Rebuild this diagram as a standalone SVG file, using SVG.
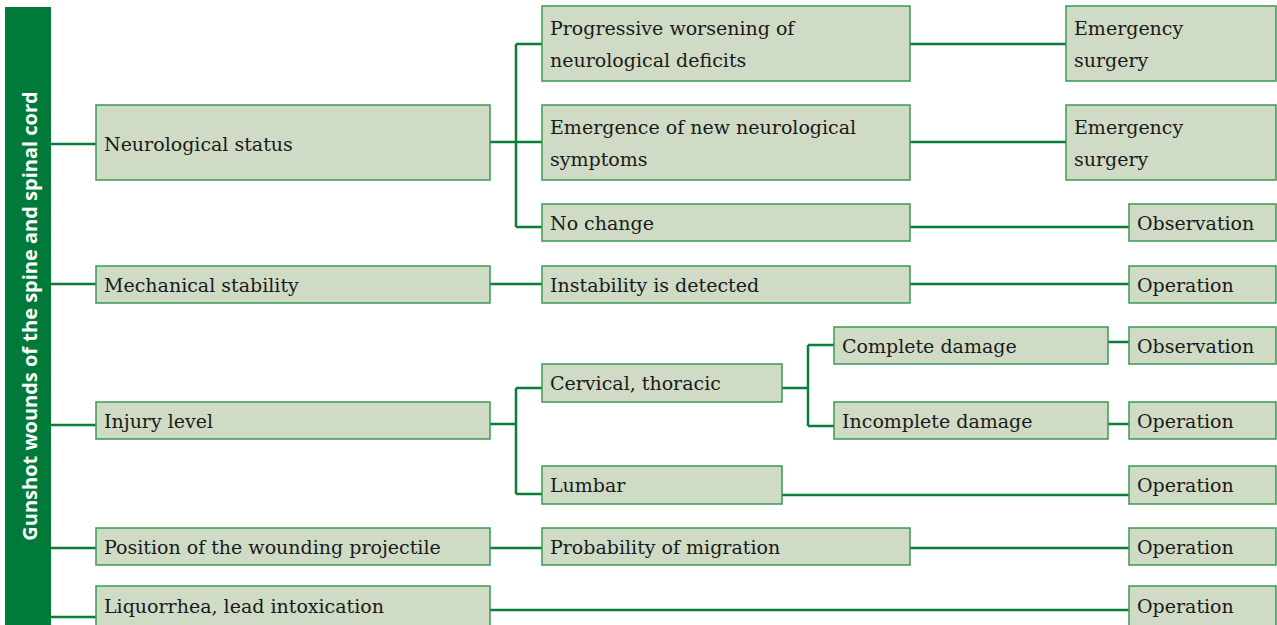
<svg xmlns="http://www.w3.org/2000/svg" width="1277" height="625" viewBox="0 0 1277 625">
<style>
.box{fill:#cfdbc5;stroke:#3a9a55;stroke-width:1.5}
.t{font-family:"DejaVu Serif","Liberation Serif",serif;font-size:19px;fill:#1a1a1a}
.c{fill:none;stroke:#0a7d3b;stroke-width:2.5}
.title{font-family:"Open Sans","Noto Sans",sans-serif;font-weight:bold;font-size:20px;fill:#ffffff}
</style>
<rect width="1277" height="625" fill="#ffffff"/>
<g id="root">
<rect x="5" y="7" width="46" height="630" fill="#007a3a"/>
<text class="title" transform="translate(36.5,316) rotate(-90)" text-anchor="middle">Gunshot wounds of the spine and spinal cord</text>
</g>
<g id="connectors">
<path class="c" d="M51 144H96M51 284H96M51 425H96M51 548H96M51 617H96"/>
<path class="c" d="M490 142H516M516 44V227M516 44H542M516 142H542M516 227H542"/>
<path class="c" d="M910 44H1066M910 142H1066M910 227H1129"/>
<path class="c" d="M490 284H542M910 284H1129"/>
<path class="c" d="M490 424H516M516 388V494M516 388H542M516 494H542"/>
<path class="c" d="M782 388H808M808 345V426M808 345H834M808 426H834"/>
<path class="c" d="M1108 342H1129M1108 424H1129M782 495H1129"/>
<path class="c" d="M490 548H542M910 548H1129M490 610H1129"/>
</g>
<g id="n-neuro"><rect class="box" x="96" y="105" width="394" height="75"/><text class="t" x="104" y="151">Neurological status</text></g>
<g id="n-mech"><rect class="box" x="96" y="266" width="394" height="37"/><text class="t" x="104" y="292">Mechanical stability</text></g>
<g id="n-injury"><rect class="box" x="96" y="402" width="394" height="37"/><text class="t" x="104" y="428">Injury level</text></g>
<g id="n-position"><rect class="box" x="96" y="528" width="394" height="37"/><text class="t" x="104" y="554">Position of the wounding projectile</text></g>
<g id="n-liquor"><rect class="box" x="96" y="586" width="394" height="60"/><text class="t" x="104" y="613">Liquorrhea, lead intoxication</text></g>
<g id="n-prog"><rect class="box" x="542" y="6" width="368" height="75"/><text class="t" x="550" y="35">Progressive worsening of</text><text class="t" x="550" y="67">neurological deficits</text></g>
<g id="n-emerg"><rect class="box" x="542" y="105" width="368" height="75"/><text class="t" x="550" y="134">Emergence of new neurological</text><text class="t" x="550" y="166">symptoms</text></g>
<g id="n-nochange"><rect class="box" x="542" y="204" width="368" height="37"/><text class="t" x="550" y="230">No change</text></g>
<g id="n-instab"><rect class="box" x="542" y="266" width="368" height="37"/><text class="t" x="550" y="292">Instability is detected</text></g>
<g id="n-cerv"><rect class="box" x="542" y="364" width="240" height="38"/><text class="t" x="550" y="390">Cervical, thoracic</text></g>
<g id="n-lumbar"><rect class="box" x="542" y="466" width="240" height="38"/><text class="t" x="550" y="492">Lumbar</text></g>
<g id="n-prob"><rect class="box" x="542" y="528" width="368" height="37"/><text class="t" x="550" y="554">Probability of migration</text></g>
<g id="n-complete"><rect class="box" x="834" y="327" width="274" height="37"/><text class="t" x="842" y="353">Complete damage</text></g>
<g id="n-incomplete"><rect class="box" x="834" y="402" width="274" height="37"/><text class="t" x="842" y="428">Incomplete damage</text></g>
<g id="r-es1"><rect class="box" x="1066" y="6" width="210" height="75"/><text class="t" x="1074" y="35">Emergency</text><text class="t" x="1074" y="67">surgery</text></g>
<g id="r-es2"><rect class="box" x="1066" y="105" width="210" height="75"/><text class="t" x="1074" y="134">Emergency</text><text class="t" x="1074" y="166">surgery</text></g>
<g id="r-obs1"><rect class="box" x="1129" y="204" width="147" height="37"/><text class="t" x="1137" y="230">Observation</text></g>
<g id="r-op1"><rect class="box" x="1129" y="266" width="147" height="37"/><text class="t" x="1137" y="292">Operation</text></g>
<g id="r-obs2"><rect class="box" x="1129" y="327" width="147" height="37"/><text class="t" x="1137" y="353">Observation</text></g>
<g id="r-op2"><rect class="box" x="1129" y="402" width="147" height="37"/><text class="t" x="1137" y="428">Operation</text></g>
<g id="r-op3"><rect class="box" x="1129" y="466" width="147" height="38"/><text class="t" x="1137" y="492">Operation</text></g>
<g id="r-op4"><rect class="box" x="1129" y="528" width="147" height="37"/><text class="t" x="1137" y="554">Operation</text></g>
<g id="r-op5"><rect class="box" x="1129" y="586" width="147" height="60"/><text class="t" x="1137" y="613">Operation</text></g>
</svg>
